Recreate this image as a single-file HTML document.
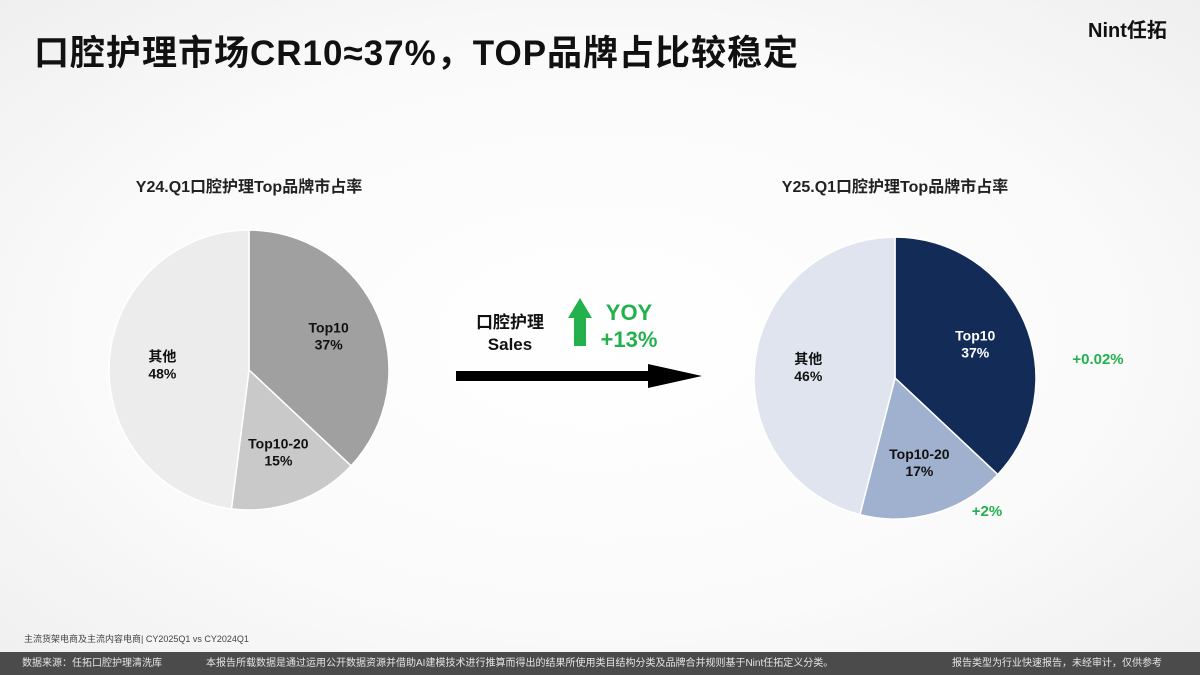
<!DOCTYPE html>
<html><head><meta charset="utf-8"><style>
body{margin:0;width:1200px;height:675px;overflow:hidden;background:#f6f6f6;font-family:"Liberation Sans","Noto Sans CJK SC",sans-serif;position:relative}
.abs{position:absolute}
</style></head><body>
<div class="abs" style="left:0;top:0;width:1200px;height:675px;background:radial-gradient(ellipse at 50% 50%,#ffffff 0%,#fafafa 60%,#efefef 100%)"></div>
<div class="abs" style="left:34px;top:25px;font-size:35px;letter-spacing:1px;font-weight:bold;color:#111;white-space:nowrap">口腔护理市场CR10≈37%，TOP品牌占比较稳定</div>
<div class="abs" style="left:1088px;top:14px;font-size:20px;font-weight:bold;color:#111">Nint任拓</div>
<svg class="abs" style="left:0;top:0" width="1200" height="675">
<g id="p1"></g><g id="p2"></g>
<text x="249" y="192" text-anchor="middle" font-size="16" font-weight="bold" fill="#222">Y24.Q1口腔护理Top品牌市占率</text>
<text x="895" y="192" text-anchor="middle" font-size="16" font-weight="bold" fill="#222">Y25.Q1口腔护理Top品牌市占率</text>
<rect x="456" y="371" width="195" height="10" fill="#000"/>
<polygon points="648,364 702,376 648,388" fill="#000"/>
<polygon points="568,318 580,298 592,318 586,318 586,346 574,346 574,318" fill="#22b14c"/>
<text x="510" y="328" text-anchor="middle" font-size="17" font-weight="bold" fill="#111">口腔护理</text>
<text x="510" y="350" text-anchor="middle" font-size="17" font-weight="bold" fill="#111">Sales</text>
<text x="629" y="320" text-anchor="middle" font-size="22" font-weight="bold" fill="#22b14c">YOY</text>
<text x="629" y="347" text-anchor="middle" font-size="22" font-weight="bold" fill="#22b14c">+13%</text>
<text x="1098" y="364" text-anchor="middle" font-size="15" font-weight="bold" fill="#22b14c">+0.02%</text>
<text x="987" y="516" text-anchor="middle" font-size="15" font-weight="bold" fill="#22b14c">+2%</text>
</svg>
<div class="abs" style="left:24px;top:632px;font-size:9px;color:#444">主流货架电商及主流内容电商| CY2025Q1 vs CY2024Q1</div>
<div class="abs" style="left:0;top:652px;width:1200px;height:23px;background:#4b4b4b;color:#e6e6e6;font-size:10px;line-height:23px">
<span style="position:absolute;left:22px">数据来源：任拓口腔护理清洗库</span>
<span style="position:absolute;left:206px">本报告所载数据是通过运用公开数据资源并借助AI建模技术进行推算而得出的结果所使用类目结构分类及品牌合并规则基于Nint任拓定义分类。</span>
<span style="position:absolute;left:952px">报告类型为行业快速报告，未经审计，仅供参考</span>
</div>
<script>
const cats=["Top10","Top10-20","其他"];
const v24=[37,15,48];
const v25=[37,17,46];
const c24=["#a0a0a0","#c9c9c9","#ececec"];
const c25=["#132b57","#a0b0cf","#dfe4ef"];
const tc24=["#111","#111","#111"];
const tc25=["#fff","#111","#111"];
const NS="http://www.w3.org/2000/svg";
function pie(g,cx,cy,r,vals,cols,tcols,id){
 const tot=vals.reduce((a,b)=>a+b,0);let a0=-Math.PI/2;
 vals.forEach((v,i)=>{
  const a1=a0+v/tot*2*Math.PI;
  const p=document.createElementNS(NS,"path");
  const x0=cx+r*Math.cos(a0),y0=cy+r*Math.sin(a0),x1=cx+r*Math.cos(a1),y1=cy+r*Math.sin(a1);
  p.setAttribute("d",`M${cx},${cy}L${x0},${y0}A${r},${r} 0 ${a1-a0>Math.PI?1:0} 1 ${x1},${y1}Z`);
  p.setAttribute("fill",cols[i]);p.setAttribute("stroke","#fff");p.setAttribute("stroke-width","1.5");
  
  
  g.appendChild(p);
  const am=(a0+a1)/2,lr=r*0.62;
  const tx=cx+lr*Math.cos(am),ty=cy+lr*Math.sin(am);
  [cats[i],v+"%"].forEach((s,k)=>{
   const t=document.createElementNS(NS,"text");
   t.setAttribute("x",tx);t.setAttribute("y",ty-3+k*17);t.setAttribute("text-anchor","middle");
   t.setAttribute("font-size","14");t.setAttribute("font-weight","bold");t.setAttribute("fill",tcols[i]);
   t.textContent=s;
   
   
   g.appendChild(t);
  });
  a0=a1;
 });
}
pie(document.getElementById("p1"),249,370,140,v24,c24,tc24,"left-pie");
pie(document.getElementById("p2"),895,378,141,v25,c25,tc25,"right-pie");
</script>
</body></html>
